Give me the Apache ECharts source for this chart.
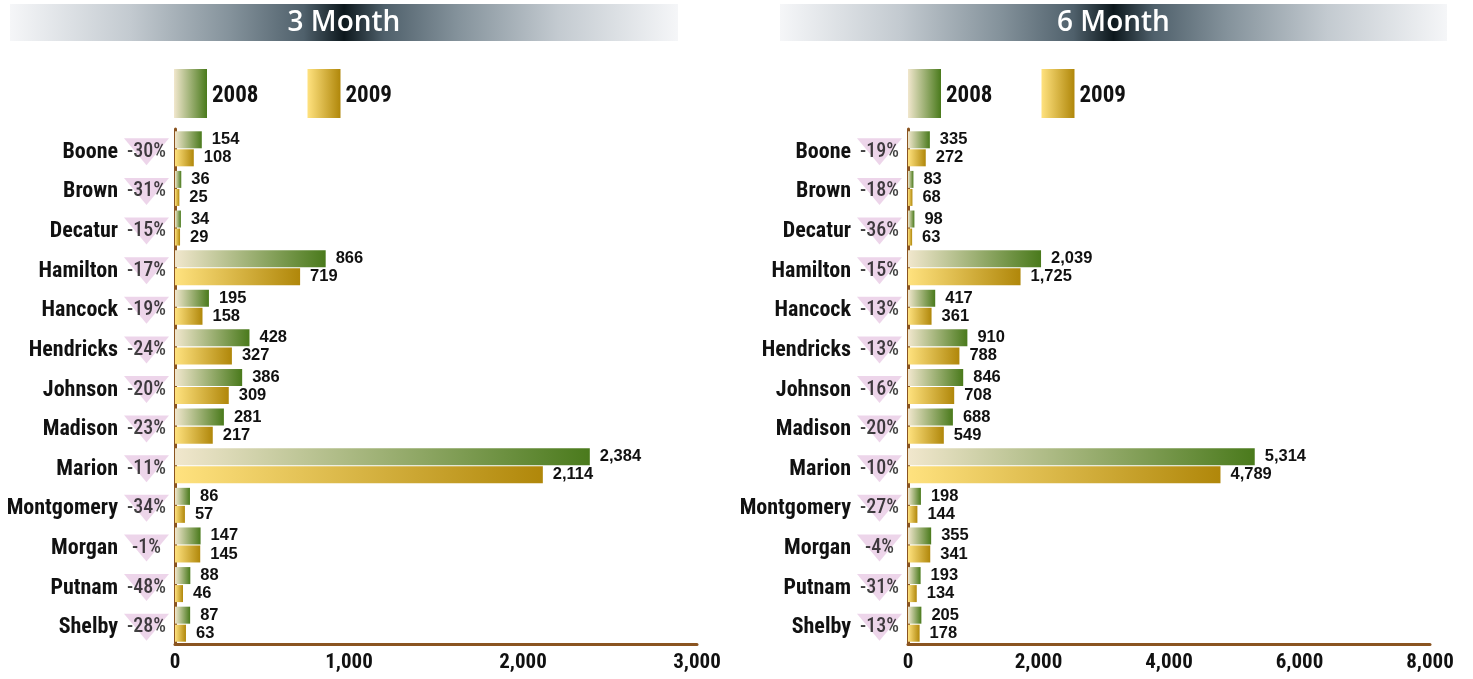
<!DOCTYPE html>
<html>
<head>
<meta charset="utf-8">
<script src="https://cdn.jsdelivr.net/npm/echarts@6/dist/echarts.min.js"></script>
<style>
html,body{margin:0;padding:0;background:#fff;}
#chart{width:1473px;height:679px;}
</style>
</head>
<body>
<div id="chart"></div>
<script>
const categories = ['Boone','Brown','Decatur','Hamilton','Hancock','Hendricks','Johnson','Madison','Marion','Montgomery','Morgan','Putnam','Shelby'];
const seriesNames = ['2008','2009'];
const m3_2008 = [154,36,34,866,195,428,386,281,2384,86,147,88,87];
const m3_2009 = [108,25,29,719,158,327,309,217,2114,57,145,46,63];
const m3_change = ['-30%','-31%','-15%','-17%','-19%','-24%','-20%','-23%','-11%','-34%','-1%','-48%','-28%'];
const m6_2008 = [335,83,98,2039,417,910,846,688,5314,198,355,193,205];
const m6_2009 = [272,68,63,1725,361,788,708,549,4789,144,341,134,178];
const m6_change = ['-19%','-18%','-36%','-15%','-13%','-13%','-16%','-20%','-10%','-27%','-4%','-31%','-13%'];
const panelTitles = ['3 Month','6 Month'];
const m3_ticks = {min:0, max:3000, interval:1000};
const m6_ticks = {min:0, max:8000, interval:2000};

const chart = echarts.init(document.getElementById('chart'));
const cond = '"Roboto Condensed", Roboto, sans-serif';
const brown = '#8a5420';
const fmt = v => String(v).replace(/\B(?=(\d{3})+(?!\d))/g, ',');
const green = new echarts.graphic.LinearGradient(0,0,1,0,[{offset:0,color:'#f1e7cd'},{offset:1,color:'#4a7a1c'}]);
const gold = new echarts.graphic.LinearGradient(0,0,1,0,[{offset:0,color:'#ffe27f'},{offset:1,color:'#b0870a'}]);
const titleGrad = new echarts.graphic.LinearGradient(0,0,1,0,[
  {offset:0,color:'#f5f6f8'},{offset:0.18,color:'#c3cad0'},{offset:0.33,color:'#84929b'},
  {offset:0.44,color:'#4f606b'},{offset:0.5,color:'#0d181d'},{offset:0.56,color:'#4f606b'},
  {offset:0.67,color:'#84929b'},{offset:0.82,color:'#c3cad0'},{offset:1,color:'#f5f6f8'}]);

const panels = [
  {left:175, right:776, triLeft:124, legendLeft:174, titleX:10, titleW:668, d08:m3_2008, d09:m3_2009, chg:m3_change, ticks:m3_ticks},
  {left:908, right:43, triLeft:857, legendLeft:908, titleX:780, titleW:667, d08:m6_2008, d09:m6_2009, chg:m6_change, ticks:m6_ticks}
];
const TOP = 129, BOTTOM = 35;

const grid = [], xAxis = [], yAxis = [], series = [], legend = [], graphic = [];
panels.forEach((p, i) => {
  const g = grid.length;
  grid.push({left:p.left, right:p.right, top:TOP, bottom:BOTTOM, containLabel:false, outerBoundsMode:'none'});
  xAxis.push({gridIndex:g, type:'value', min:p.ticks.min, max:p.ticks.max, interval:p.ticks.interval,
    axisLine:{show:true, lineStyle:{color:brown, width:3}}, axisTick:{show:false}, splitLine:{show:false},
    axisLabel:{margin:8, fontFamily:cond, fontWeight:'bold', fontSize:21, color:'#111', formatter:fmt}});
  yAxis.push({gridIndex:g, type:'category', data:categories, inverse:true,
    axisLine:{show:true, lineStyle:{color:brown, width:3}}, axisTick:{show:false},
    axisLabel:{margin:57, formatter: v => '{c|' + v + '}',
      rich:{c:{fontFamily:cond, fontWeight:'bold', fontSize:22, color:'#111', padding:[7,0,0,0]}}}});
  const labelBase = {show:true, position:'right', distance:10, fontFamily:'"Liberation Sans", Arial, sans-serif', fontWeight:'bold', fontSize:16.5, color:'#111', formatter: pr => fmt(pr.value)};
  series.push({name:seriesNames[0], type:'bar', xAxisIndex:g, yAxisIndex:g, data:p.d08, barWidth:17, barGap:'6%',
    itemStyle:{color:green}, label:labelBase, emphasis:{disabled:true}, animation:false});
  series.push({name:seriesNames[1], type:'bar', xAxisIndex:g, yAxisIndex:g, data:p.d09, barWidth:17, barGap:'6%',
    itemStyle:{color:gold}, label:labelBase, emphasis:{disabled:true}, animation:false});

  // change triangles
  const t = grid.length;
  grid.push({left:p.triLeft, width:45, top:TOP, bottom:BOTTOM, outerBoundsMode:'none'});
  xAxis.push({gridIndex:t, type:'value', min:0, max:1, show:false});
  yAxis.push({gridIndex:t, type:'category', data:categories, inverse:true, show:false});
  series.push({type:'scatter', xAxisIndex:t, yAxisIndex:t, data:categories.map((c,k)=>[0.5, c]),
    symbol:'path://M0,0L10,0L5,6Z', symbolSize:[45,27], symbolOffset:[0,3], itemStyle:{color:'#e9cbe5'}, z:1,
    label:{show:true, position:'inside', formatter: pr => p.chg[pr.dataIndex], fontFamily:cond, fontWeight:500, fontSize:20, color:'#111', padding:[3,0,0,0]},
    emphasis:{disabled:true}, animation:false, silent:true});

  legend.push({data:seriesNames, left:p.legendLeft, top:69, padding:0, itemWidth:33, itemHeight:49, itemGap:49, icon:'rect',
    selectedMode:false, formatter: n => '{l|' + n + '}',
    textStyle:{rich:{l:{fontFamily:cond, fontWeight:'bold', fontSize:23, color:'#111', padding:[6,0,0,0]}}}});

  graphic.push({type:'rect', shape:{x:p.titleX, y:4, width:p.titleW, height:37}, style:{fill:titleGrad}, silent:true, z:0});
  graphic.push({type:'text', x:p.titleX + p.titleW/2, y:23, silent:true, z:1,
    style:{text:panelTitles[i], fill:'#ffffff', font:'600 28px "Open Sans", sans-serif', textAlign:'center', textVerticalAlign:'middle'}});
});

chart.setOption({animation:false, grid, xAxis, yAxis, series, legend, graphic});
</script>
</body>
</html>
